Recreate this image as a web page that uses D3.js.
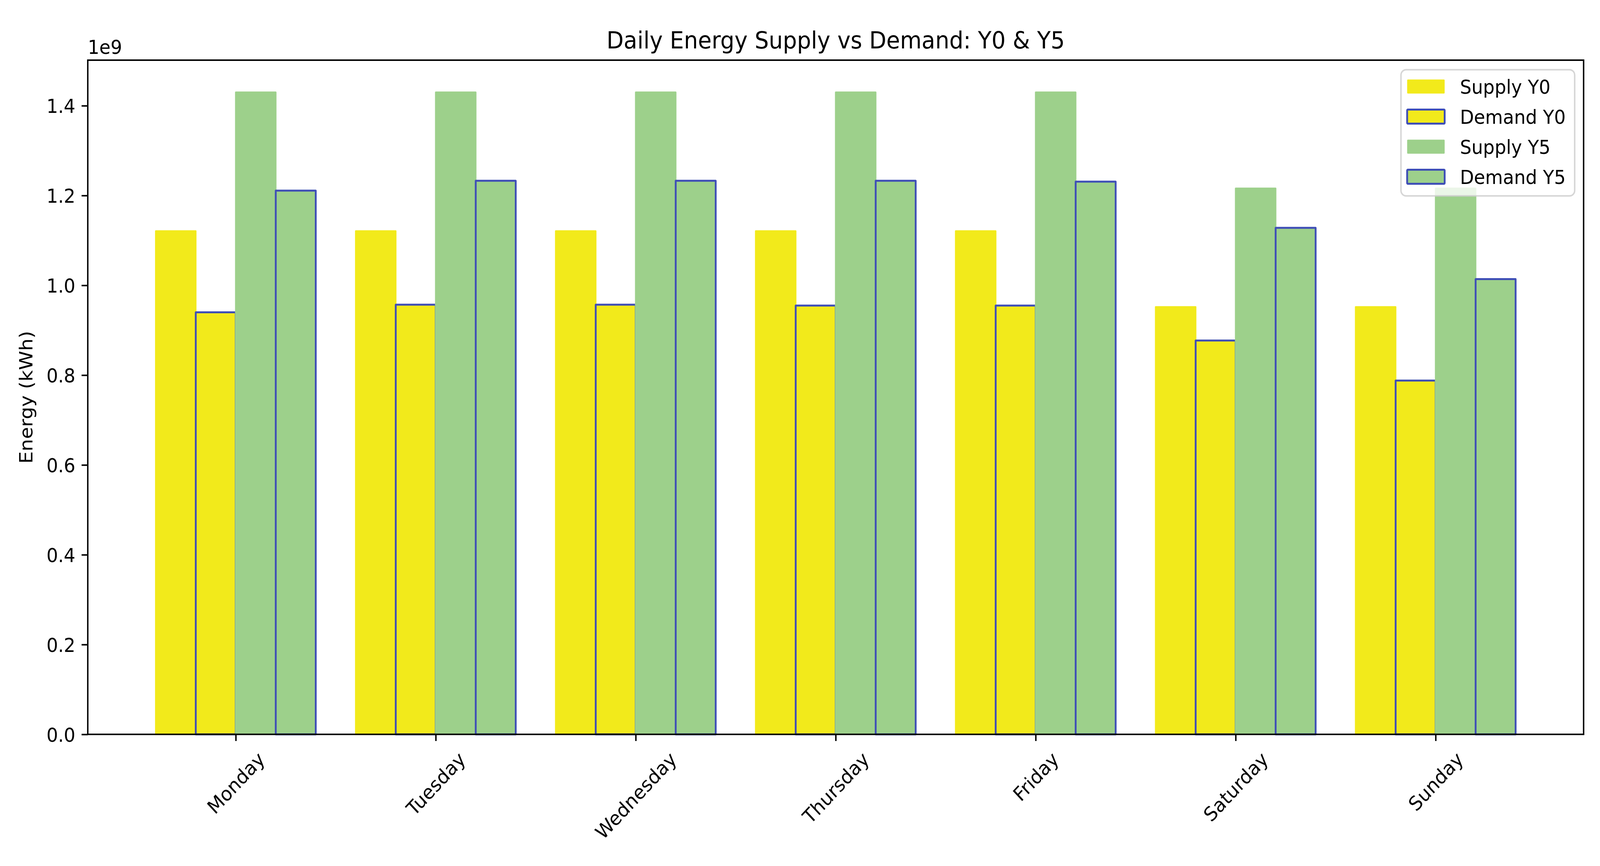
<!DOCTYPE html>
<html>
<head>
<meta charset="utf-8">
<script src="https://cdn.jsdelivr.net/npm/d3@7"></script>
<style>
  html, body { margin: 0; padding: 0; background: #fff; overflow: hidden; }
  svg { display: block; width: 100vw; height: 100vh; }
  text { font-family: "DejaVu Sans", sans-serif; fill: #000; }
</style>
</head>
<body>
<div id="chart"></div>
<script>
// values (kWh)
var days = ["Monday", "Tuesday", "Wednesday", "Thursday", "Friday", "Saturday", "Sunday"];
var supplyY0 = [1.121e9, 1.121e9, 1.121e9, 1.121e9, 1.121e9, 0.952e9, 0.952e9];
var demandY0 = [0.940e9, 0.957e9, 0.957e9, 0.955e9, 0.955e9, 0.877e9, 0.788e9];
var supplyY5 = [1.430e9, 1.430e9, 1.430e9, 1.430e9, 1.430e9, 1.216e9, 1.216e9];
var demandY5 = [1.211e9, 1.233e9, 1.233e9, 1.233e9, 1.231e9, 1.128e9, 1.014e9];
var yTicks = [0, 0.2e9, 0.4e9, 0.6e9, 0.8e9, 1.0e9, 1.2e9, 1.4e9];

var W = 4393, H = 2217;
var margin = {top: 154, right: 45, bottom: 337, left: 241};
var width = W - margin.left - margin.right,
    height = H - margin.top - margin.bottom;

var yellow = "#f2ea1b", green = "#9dd08b", edge = "#3f4fb6";
var barW = 0.2;
var series = [
  {name: "Supply Y0", values: supplyY0, fill: yellow, stroke: null, off: -1.5},
  {name: "Demand Y0", values: demandY0, fill: yellow, stroke: edge, off: -0.5},
  {name: "Supply Y5", values: supplyY5, fill: green, stroke: null, off: 0.5},
  {name: "Demand Y5", values: demandY5, fill: green, stroke: edge, off: 1.5}
];

var fs = 50;          // 10pt at this scale
var lw = 3.9;         // axes line width
var tickLen = 17, tickPad = 17;

// fixed drawing space, scaled to whatever the window is
var svg = d3.select("#chart").append("svg")
    .attr("viewBox", "0 0 " + W + " " + H)
    .attr("preserveAspectRatio", "none");
svg.append("rect").attr("width", W).attr("height", H).attr("fill", "#fff");

var g = svg.append("g")
    .attr("transform", "translate(" + margin.left + "," + margin.top + ")");

// x: index space with matplotlib-like 5% margins
var lo = -2 * barW, hi = days.length - 1 + 2 * barW, pad = (hi - lo) * 0.05;
var x = d3.scaleLinear().domain([lo - pad, hi + pad]).range([0, width]);
var allMax = d3.max([supplyY0, demandY0, supplyY5, demandY5], function(a) { return d3.max(a); });
var y = d3.scaleLinear().domain([0, allMax * 1.05]).range([height, 0]);

// bars; supply bars get a same-colour edge so they sit over the neighbour's outline
series.forEach(function(s) {
  g.append("g").selectAll("rect")
    .data(s.values)
    .enter().append("rect")
    .attr("x", function(d, i) { return x(i + (s.off - 0.5) * barW); })
    .attr("y", function(d) { return y(d); })
    .attr("width", function(d, i) { return x(i + (s.off + 0.5) * barW) - x(i + (s.off - 0.5) * barW); })
    .attr("height", function(d) { return height - y(d); })
    .attr("fill", s.fill)
    .attr("stroke", s.stroke || s.fill)
    .attr("stroke-width", s.stroke ? 5 : 4)
    .attr("stroke-linejoin", "round");
});

// y axis
var yAxis = g.append("g")
  .call(d3.axisLeft(y).tickValues(yTicks)
    .tickFormat(function(d) { return (d / 1e9).toFixed(1); })
    .tickSize(tickLen).tickPadding(tickPad));
yAxis.select(".domain").remove();
yAxis.selectAll("line").attr("stroke", "#000").attr("stroke-width", lw);
yAxis.selectAll("text").attr("font-size", fs).attr("font-family", "DejaVu Sans")
  .attr("fill", "#000").attr("dy", "0.36em");

// x axis
var xAxis = g.append("g")
  .attr("transform", "translate(0," + height + ")")
  .call(d3.axisBottom(x).tickValues(d3.range(days.length))
    .tickFormat(function(d) { return days[d]; })
    .tickSize(tickLen).tickPadding(tickPad));
xAxis.select(".domain").remove();
xAxis.selectAll("line").attr("stroke", "#000").attr("stroke-width", lw);
xAxis.selectAll("text")
  .attr("font-size", fs).attr("font-family", "DejaVu Sans").attr("fill", "#000")
  .attr("y", null).attr("dy", null)
  .attr("dominant-baseline", "central")
  .style("text-anchor", "middle")
  .attr("transform", function() {
    var w = this.getComputedTextLength(), h = fs * 1.17;
    var half = (w + h) * Math.SQRT1_2 / 2;
    return "translate(0," + (tickLen + tickPad + half) + ") rotate(-45)";
  });

// frame
g.append("rect")
  .attr("width", width).attr("height", height)
  .attr("fill", "none").attr("stroke", "#000").attr("stroke-width", lw);

// offset text and labels
g.append("text").attr("x", 0).attr("y", -16)
  .attr("font-size", fs).text("1e9");

svg.append("text")
  .attr("transform", "translate(89," + (margin.top + height / 2) + ") rotate(-90)")
  .attr("font-size", fs).style("text-anchor", "middle")
  .text("Energy (kWh)");

svg.append("text")
  .attr("x", margin.left + width / 2).attr("y", 124)
  .attr("font-size", 61).style("text-anchor", "middle")
  .text("Daily Energy Supply vs Demand: Y0 & Y5");

// legend, upper right
var lgW = 477, lgH = 323;
var lg = g.append("g")
  .attr("transform", "translate(" + (width - 24.5 - lgW) + ",24.5)");
lg.append("rect")
  .attr("width", lgW).attr("height", lgH)
  .attr("rx", 14).attr("ry", 14)
  .attr("fill", "#fff").attr("fill-opacity", 0.8)
  .attr("stroke", "#cccccc").attr("stroke-opacity", 0.8).attr("stroke-width", 4);
var rows = lg.selectAll("g.row")
  .data(series)
  .enter().append("g")
  .attr("class", "row")
  .attr("transform", function(d, i) { return "translate(0," + (43 + i * 77) + ")"; });
rows.append("rect")
  .attr("x", 17).attr("y", -18)
  .attr("width", 103).attr("height", 36)
  .attr("fill", function(d) { return d.fill; })
  .attr("stroke", function(d) { return d.stroke || "none"; })
  .attr("stroke-width", function(d) { return d.stroke ? 5 : 0; })
  .attr("rx", 2);
rows.append("text")
  .attr("x", 162).attr("dy", "0.36em")
  .attr("font-size", fs)
  .text(function(d) { return d.name; });
</script>
</body>
</html>
